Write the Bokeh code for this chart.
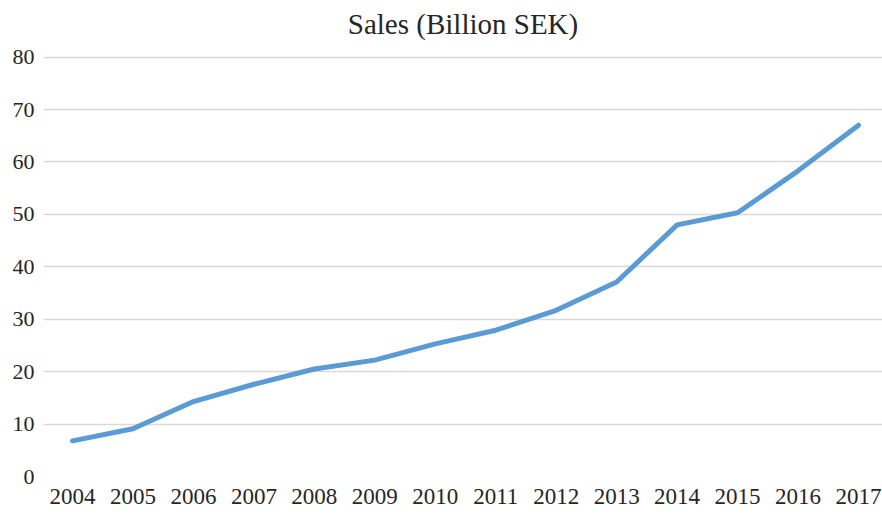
from bokeh.plotting import figure
from bokeh.models import Range1d, FixedTicker, ColumnDataSource
from bokeh.embed import file_html
from bokeh.resources import INLINE

years = [2004, 2005, 2006, 2007, 2008, 2009, 2010, 2011, 2012, 2013, 2014, 2015, 2016, 2017]
sales = [6.8, 9.1, 14.3, 17.6, 20.5, 22.2, 25.3, 27.9, 31.7, 37.1, 48.0, 50.3, 58.3, 67.0]
y_ticks = [0, 10, 20, 30, 40, 50, 60, 70, 80]
title_text = "Sales (Billion SEK)"

FONT = "'Liberation Serif', 'Times New Roman', serif"
TXT = "#262626"

source = ColumnDataSource(dict(year=years, sales=sales))

p = figure(
    frame_width=839, frame_height=432,
    min_border_left=43, min_border_right=0, min_border_top=44, min_border_bottom=38,
    x_range=Range1d(2003.520, 2017.397), y_range=Range1d(0, 82.4),
    output_backend="svg", toolbar_location=None,
    title=title_text,
)
p.title.text_font = FONT
p.title.text_font_size = "29px"
p.title.text_font_style = "normal"
p.title.text_color = TXT
p.title.align = "center"
p.title.standoff = 10

p.line("year", "sales", source=source, line_color="#5B9BD5", line_width=5,
       line_cap="round", line_join="round")

p.outline_line_color = None
p.background_fill_color = "white"
p.border_fill_color = "white"

p.xgrid.grid_line_color = None
p.ygrid.grid_line_color = "#D9D9D9"
p.ygrid.grid_line_width = 1.3
p.ygrid.ticker = FixedTicker(ticks=y_ticks)

p.yaxis.ticker = FixedTicker(ticks=y_ticks)
p.xaxis.ticker = FixedTicker(ticks=years)

for ax in (p.xaxis, p.yaxis):
    ax.axis_line_color = None
    ax.major_tick_line_color = None
    ax.minor_tick_line_color = None
    ax.major_tick_out = 0
    ax.major_tick_in = 0
    ax.major_label_text_font = FONT
    ax.major_label_text_color = TXT

p.yaxis.major_label_text_font_size = "22px"
p.yaxis.major_label_standoff = 9
p.xaxis.major_label_text_font_size = "23px"
p.xaxis.major_label_standoff = 12

open("out.html", "w").write(file_html(p, INLINE))
